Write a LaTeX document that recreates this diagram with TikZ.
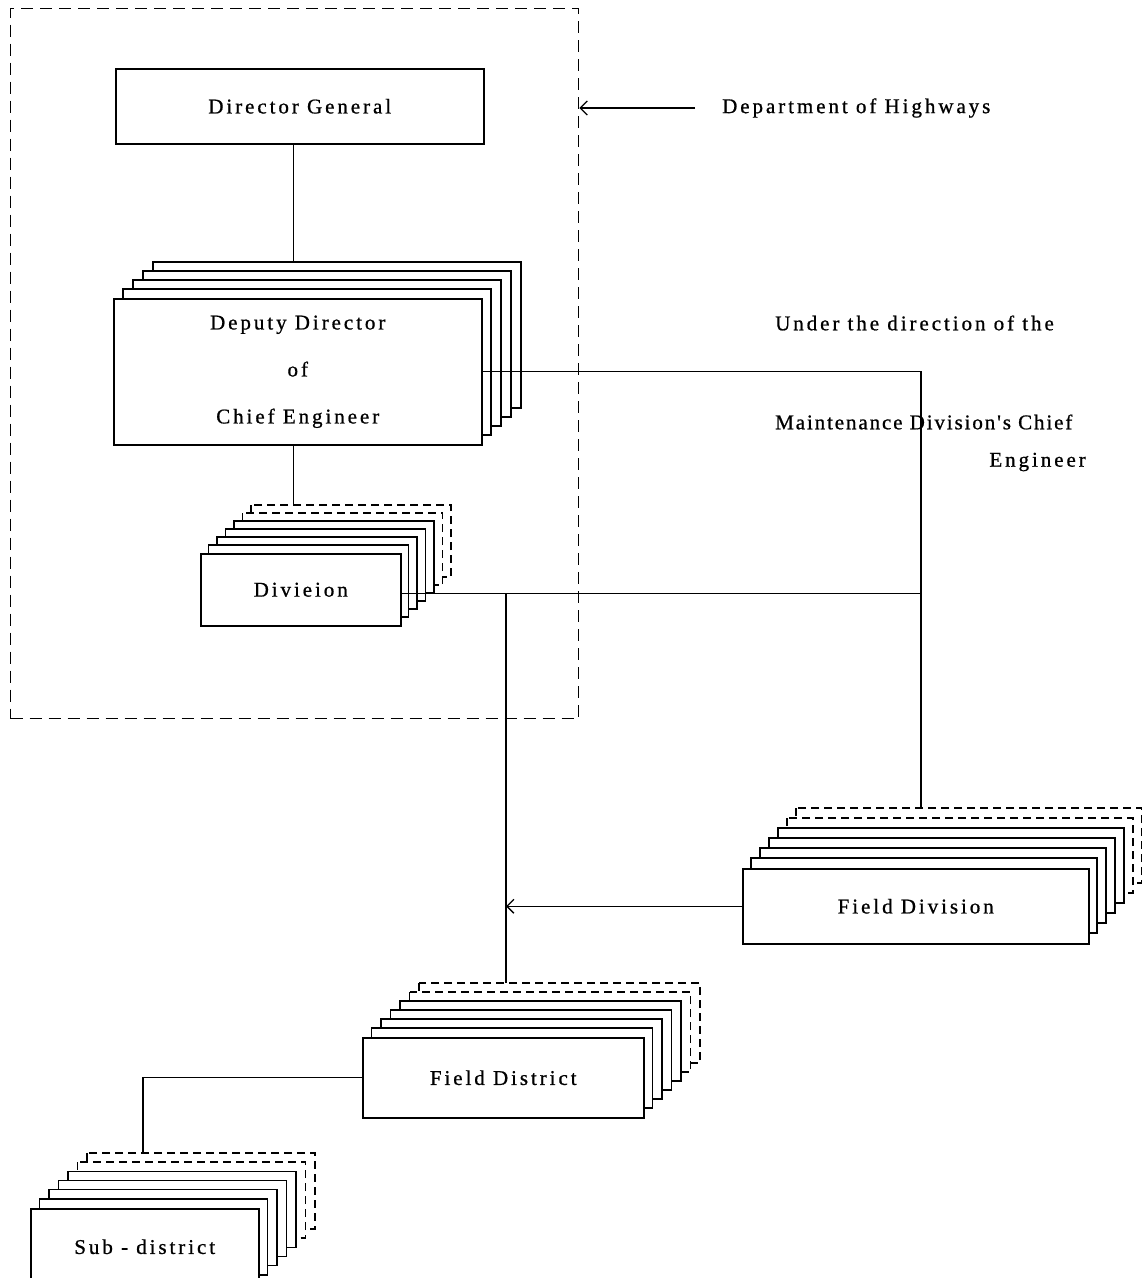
\documentclass[tikz,border=0pt]{standalone}
\usepackage{fontspec}
\setmainfont{Liberation Serif}
\newfontfamily\lblfont[LetterSpace=14,FakeBold=0.8]{Liberation Serif}
\newfontfamily\lblnarrow[LetterSpace=9,FakeBold=0.8]{Liberation Serif}
\usetikzlibrary{arrows.meta,calc}
\newcommand\backlayers[8]{% x1,y1,w,h,nsolid,ndashed,dx,dy
  \pgfmathtruncatemacro\ntot{#5+#6}%
  \foreach \k in {\ntot,...,1}{%
    \ifnum\k>#5\relax\def\lst{dashlayer}\else\def\lst{solidlayer}\fi
    \draw[\lst] ({#1+\k*#7},{#2-\k*#8}) rectangle ++(#3,#4);
  }%
}
\tikzset{
  solidlayer/.style={draw=black, line width=1.4pt, fill=white},
  dashlayer/.style={draw=black, line width=1.4pt, fill=white, dash pattern=on 8pt off 5pt},
  box/.style={draw=black, line width=1.5pt, fill=white, anchor=north west, align=center,
    font=\lblfont\fontsize{21}{25}\selectfont, inner sep=0pt},
  lbl/.style={font=\lblfont\fontsize{21}{25}\selectfont, inner sep=0pt},
  conn/.style={line width=1.3pt},
  tip/.style={-{Straight Barb[length=7pt,width=14pt,line width=1.3pt]}},
}
\begin{document}
\begin{tikzpicture}[x=1pt,y=-1pt]
\useasboundingbox (0,0) rectangle (1142,1278);
\fill[white] (0,0) rectangle (1142,1278);
% outer dashed frame
\node[draw, line width=1.4pt, dash pattern=on 12pt off 7pt, anchor=north west,
  minimum width=568pt, minimum height=710pt, inner sep=0pt] (outer) at (10,8) {};
% Director General
\node[box, minimum width=368pt, minimum height=75pt] (dg) at (115,68) {Director General};
% Deputy stack
\backlayers{113}{298}{368}{146}{4}{0}{10}{9}
\coordinate (deptop) at (153,262);
\node[box, minimum width=368pt, minimum height=146pt] (dep) at (113,298)
  {Deputy Director\\[22pt]of\\[22pt]Chief Engineer};
% Division stack
\backlayers{200}{553}{200}{72}{4}{2}{8.5}{8}
\coordinate (divtop) at (251,505);
\node[box, minimum width=200pt, minimum height=72pt] (div) at (200,553) {Divieion};
% Field Division stack
\backlayers{742}{868}{346}{75}{4}{2}{9}{10}
\coordinate (fdvtop) at (921,808);
\node[box, minimum width=346pt, minimum height=75pt] (fdv) at (742,868) {Field Division};
% Field District stack
\backlayers{362}{1037}{281}{80}{4}{2}{9.5}{9}
\coordinate (fdttop) at (419,983);
\node[box, minimum width=281pt, minimum height=80pt] (fdt) at (362,1037) {Field District};
% Sub-district stack
\backlayers{30}{1208}{228}{76}{4}{2}{9.5}{9.2}
\coordinate (sdtop) at (143,1153);
\node[box, minimum width=228pt, minimum height=76pt] (sd) at (30,1208) {Sub - district};
% labels
\node[lbl, anchor=west] (dh) at (722,108) {Department of Highways};
\node[lbl, anchor=west] (ud) at (775,323) {Under the direction of the};
\node[lbl, anchor=west, font=\lblnarrow\fontsize{21}{25}\selectfont] (md) at (775,422) {Maintenance Division's Chief};
\node[lbl, anchor=east] (en) at (1086,462) {Engineer};
% connectors
\coordinate (jx) at (506,0);
\coordinate (dvr) at ([yshift=-4pt]div.east);
\coordinate (jb) at (dvr -| jx);
\draw[conn] ([xshift=-6pt]dg.south) -- ([xshift=-6pt]dg.south |- deptop);
\draw[conn] ([xshift=-4pt]dep.south) -- ([xshift=-4pt]dep.south |- divtop);
\draw[conn] (dep.east) -| (fdvtop);
\draw[conn] (dvr) -| (fdvtop);
\draw[conn] (jb) -- (jb |- fdttop);
\draw[conn, tip] (fdv.west) -- (fdv.west -| jb);
\draw[conn] (fdt.west) -| (sdtop);
\draw[conn, tip] ([xshift=-27pt]dh.west) -- (dh.west -| outer.east);
\end{tikzpicture}
\end{document}
